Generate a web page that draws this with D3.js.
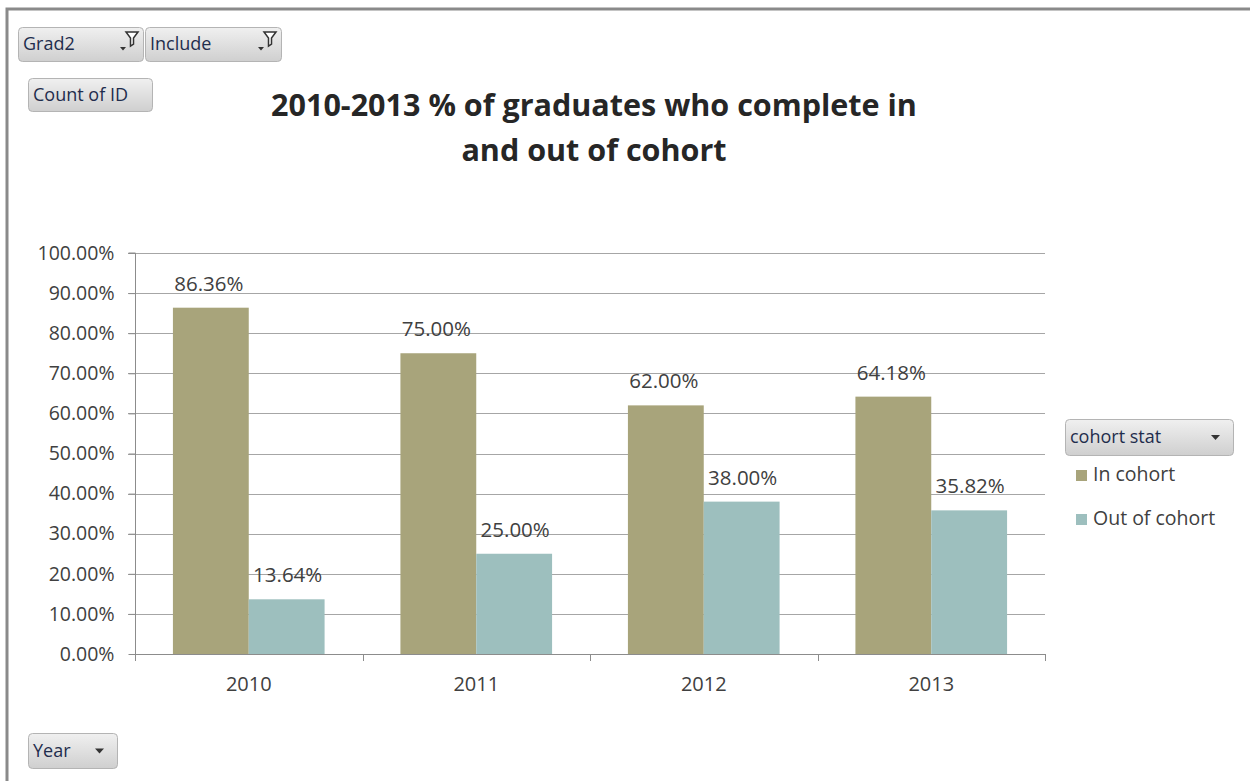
<!DOCTYPE html>
<html>
<head>
<meta charset="utf-8">
<script src="https://cdn.jsdelivr.net/npm/d3@7"></script>
<style>
  html, body { margin: 0; padding: 0; background: #fff; }
  svg { display: block; }
  text { font-family: "Open Sans", Lato, sans-serif; }
</style>
</head>
<body>
<svg id="chart" width="1250" height="781"></svg>
<script>
// Data
const years = ["2010", "2011", "2012", "2013"];
const seriesNames = ["In cohort", "Out of cohort"];
const inCohort = [86.36, 75.00, 62.00, 64.18];
const outOfCohort = [13.64, 25.00, 38.00, 35.82];
const yTicks = [0, 10, 20, 30, 40, 50, 60, 70, 80, 90, 100];
const titleLines = ["2010-2013 % of graduates who complete in", "and out of cohort"];
const colors = ["#a8a47b", "#9dbfbe"];

const svg = d3.select("#chart");
const W = 1250, H = 781;

// Outer frame
svg.append("rect").attr("x", 7).attr("y", 9).attr("width", W).attr("height", H)
  .attr("fill", "#fff").attr("stroke", "#8a8a8a").attr("stroke-width", 3);

const plot = { left: 135, right: 1045, top: 253, bottom: 654 };

const x0 = d3.scaleBand().domain(years).range([plot.left, plot.right]).paddingInner(0).paddingOuter(0);
const x1 = d3.scaleBand().domain(seriesNames).range([0, x0.bandwidth()]).paddingOuter(0.5).paddingInner(0);
const y = d3.scaleLinear().domain([0, 100]).range([plot.bottom, plot.top]);

// Gridlines
svg.append("g").selectAll("line").data(yTicks.filter(d => d > 0)).join("line")
  .attr("x1", plot.left - 7).attr("x2", plot.right)
  .attr("y1", d => Math.round(y(d)) + 0.5).attr("y2", d => Math.round(y(d)) + 0.5)
  .attr("stroke", "#a6a6a6").attr("stroke-width", 1);

// Y axis
const yAxis = d3.axisLeft(y).tickValues(yTicks).tickSize(7).tickPadding(14)
  .tickFormat(d => d.toFixed(2) + "%");
const gy = svg.append("g").attr("transform", `translate(${plot.left + 0.5},0)`).call(yAxis);
gy.select(".domain").attr("stroke", "#8c8c8c").attr("d", `M-7,${plot.top}H0V${plot.bottom}`);
gy.selectAll(".tick line").attr("stroke", "#8c8c8c");
gy.selectAll(".tick text").attr("fill", "#404040").style("font-size", "19.5px")
  .style("font-family", "'Open Sans', sans-serif");

// Bars
const rows = years.map((yr, i) => ({ year: yr, values: [inCohort[i], outOfCohort[i]] }));
const groups = svg.append("g").selectAll("g").data(rows).join("g")
  .attr("transform", d => `translate(${x0(d.year)},0)`);
groups.selectAll("rect").data(d => d.values.map((v, j) => ({ name: seriesNames[j], v, j }))).join("rect")
  .attr("x", d => x1(d.name)).attr("width", x1.bandwidth())
  .attr("y", d => y(d.v)).attr("height", d => y(0) - y(d.v))
  .attr("fill", d => colors[d.j]);
groups.selectAll("text").data(d => d.values.map((v, j) => ({ name: seriesNames[j], v, j }))).join("text")
  .attr("x", d => x1(d.name) + x1.bandwidth() / 2 + (d.j === 1 ? 1 : -2))
  .attr("y", d => y(d.v) - 17)
  .attr("text-anchor", "middle")
  .attr("fill", "#404040").style("font-size", "20.5px")
  .text(d => d.v.toFixed(2) + "%");

// X axis
const xAxis = d3.axisBottom(x0).tickSize(0).tickPadding(22);
const gx = svg.append("g").attr("transform", `translate(0,${plot.bottom + 0.5})`).call(xAxis);
gx.select(".domain").attr("stroke", "#8c8c8c").attr("d", `M${plot.left},0H${plot.right}`);
gx.selectAll(".tick text").attr("fill", "#404040").style("font-size", "20px")
  .style("font-family", "'Open Sans', sans-serif");
// Category separators
svg.append("g").selectAll("line").data(years.map(d => x0(d)).concat([plot.right])).join("line")
  .attr("x1", d => Math.round(d) + 0.5).attr("x2", d => Math.round(d) + 0.5)
  .attr("y1", plot.bottom).attr("y2", plot.bottom + 7)
  .attr("stroke", "#8c8c8c");

// Title, sized so the first line spans the header width
const title = svg.append("text").attr("text-anchor", "middle")
  .attr("fill", "#262626").style("font-size", "28px").style("font-weight", "bold");
title.selectAll("tspan").data(titleLines).join("tspan")
  .attr("x", 594).attr("y", (d, i) => 116 + i * 45).text(d => d);
const firstLine = title.select("tspan").node();
const w0 = firstLine.getComputedTextLength();
if (w0 > 0) title.style("font-size", (28 * 646 / w0).toFixed(2) + "px");

// Field buttons
const defs = svg.append("defs");
const grad = defs.append("linearGradient").attr("id", "btnGrad").attr("x1", 0).attr("x2", 0).attr("y1", 0).attr("y2", 1);
grad.append("stop").attr("offset", "0%").attr("stop-color", "#f0f0f0");
grad.append("stop").attr("offset", "100%").attr("stop-color", "#cfcfcf");

function button(x, yy, w, h, label, kind) {
  const g = svg.append("g").attr("transform", `translate(${x},${yy})`);
  g.append("rect").attr("x", 0.5).attr("y", 0.5).attr("width", w).attr("height", h)
    .attr("rx", 4).attr("fill", "url(#btnGrad)").attr("stroke", "#b4b4b4");
  g.append("text").attr("x", 5).attr("y", h / 2 + 6).attr("fill", "#1f2d4d")
    .style("font-size", "18px").text(label);
  if (kind === "drop") {
    g.append("path").attr("d", `M${w - 22},${h / 2 - 2}h9l-4.5,5z`).attr("fill", "#333");
  } else if (kind === "filter") {
    g.append("path").attr("d", `M${w - 23},${h / 2 + 3}h6l-3,3.5z`).attr("fill", "#333");
    g.append("path").attr("d", `M${w - 17},${h / 2 - 12}h12l-4.5,6v6l-3,2v-8z`)
      .attr("fill", "#fff").attr("stroke", "#333").attr("stroke-width", 1.5);
  }
}
button(18, 27, 125, 34, "Grad2", "filter");
button(145, 27, 136, 34, "Include", "filter");
button(28, 78, 124, 33, "Count of ID", "none");
button(28, 733, 89, 35, "Year", "drop");
button(1065, 419, 168, 36, "cohort stat", "drop");

// Legend
const legend = svg.append("g").selectAll("g").data(seriesNames).join("g")
  .attr("transform", (d, i) => `translate(1076,${468 + i * 44})`);
legend.append("rect").attr("width", 11).attr("height", 11).attr("y", 2).attr("fill", (d, i) => colors[i]);
legend.append("text").attr("x", 17).attr("y", 13).attr("fill", "#404040")
  .style("font-size", "19.5px").text(d => d);
</script>
</body>
</html>
